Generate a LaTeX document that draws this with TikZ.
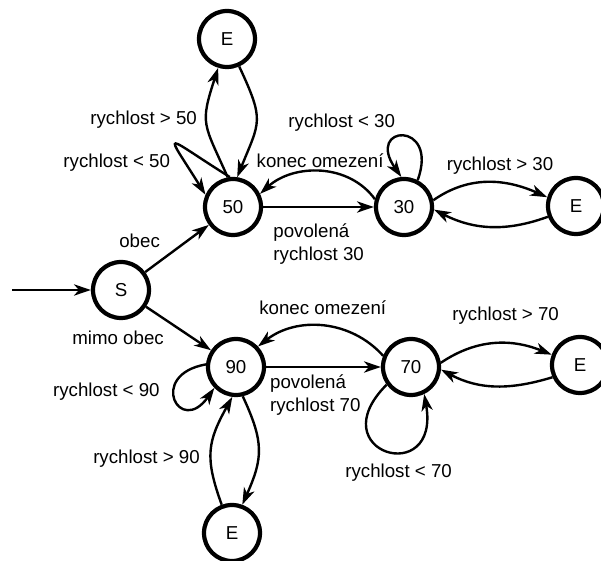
\documentclass[tikz,border=0pt]{standalone}
\usepackage{fontspec}
\setmainfont{Liberation Sans}
\usetikzlibrary{arrows.meta,positioning}
\tikzset{
  state/.style={draw, circle, line width=3pt, minimum size=1.4cm, inner sep=0pt},
  trans/.style={->, line width=1.7pt},
}
\begin{document}
\begin{tikzpicture}[>={Stealth[length=12pt,width=8pt,inset=3.5pt]}, font=\fontsize{13.3}{16.3}\selectfont, every node/.append style={inner sep=1pt}]
\useasboundingbox (0,0) rectangle (15.025,14.025);
\node[state] (S) at (3.025,6.775) {S};
\node[state] (n50) at (5.825,8.85) {50};
\node[state] (E50) at (5.675,13.05) {E};
\node[state] (n30) at (10.1,8.85) {30};
\node[state] (E30) at (14.4,8.875) {E};
\node[state] (n90) at (5.9,4.85) {90};
\node[state] (E90) at (5.8,0.7) {E};
\node[state] (n70) at (10.275,4.85) {70};
\node[state] (E70) at (14.5,4.9) {E};
\coordinate (init) at (0.3,6.775);

\draw[trans] (init) -- (S);
\draw[trans] (S) -- (n50) node[pos=.35, above left=5pt]{obec};
\draw[trans] (S) -- (n90) node[pos=.39, below left=5pt]{mimo obec};
% obec
\draw[trans] (n50.100) to[out=114, in=252, looseness=1.4] node[pos=.55, left=5pt]{rychlost > 50} (E50.253);
\draw[trans] (E50.-66) to[out=-65, in=68, looseness=1.4] (n50.82);
\draw[trans] (n50.96) .. controls +(148:2) and +(122:2) .. node[pos=.8, left=9pt]{rychlost < 50} (n50.156);
\draw[trans] (n50) -- (n30) node[pos=0, below right=10pt and 5.5pt, align=left]{povolená\\rychlost 30};
\draw[trans] (n30.165) to[out=126, in=42] node[above=1pt]{konec omezení} (n50.26);
\draw[trans] (n30.63) .. controls +(70:1.6) and +(125:1.6) .. node[pos=.6, above left=3pt and 0pt]{rychlost < 30} (n30.95);
\draw[trans] (n30.13) to[out=35, in=156] node[pos=.6, above=4pt]{rychlost > 30} (E30.163);
\draw[trans] (E30.201) to[out=200, in=-27] (n30.-5);
% mimo obec
\draw[trans] (n90) -- (n70) node[pos=0, below right=4pt and 1pt, align=left]{povolená\\rychlost 70};
\draw[trans] (n70.158) to[out=132, in=38] node[above=6pt]{konec omezení} (n90.43);
\draw[trans] (n90.175) .. controls +(190:1.5) and +(235:1.5) .. node[pos=.4, left=8pt]{rychlost < 90} (n90.224);
\draw[trans] (n90.-77) to[out=-65, in=66, looseness=1.2] (E90.70);
\draw[trans] (E90.110) to[out=110, in=241, looseness=1.2] node[pos=.4, left=6pt]{rychlost > 90} (n90.263);
\draw[trans] (n70.8) to[out=34, in=158] node[pos=.6, above=12pt]{rychlost > 70} (E70.160);
\draw[trans] (E70.204) to[out=197, in=-28] (n70.-5);
\draw[trans] (n70.216) .. controls +(225:2.4) and +(-80:2.4) .. node[pos=.6, below=7pt]{rychlost < 70} (n70.-64);
\end{tikzpicture}
\end{document}
